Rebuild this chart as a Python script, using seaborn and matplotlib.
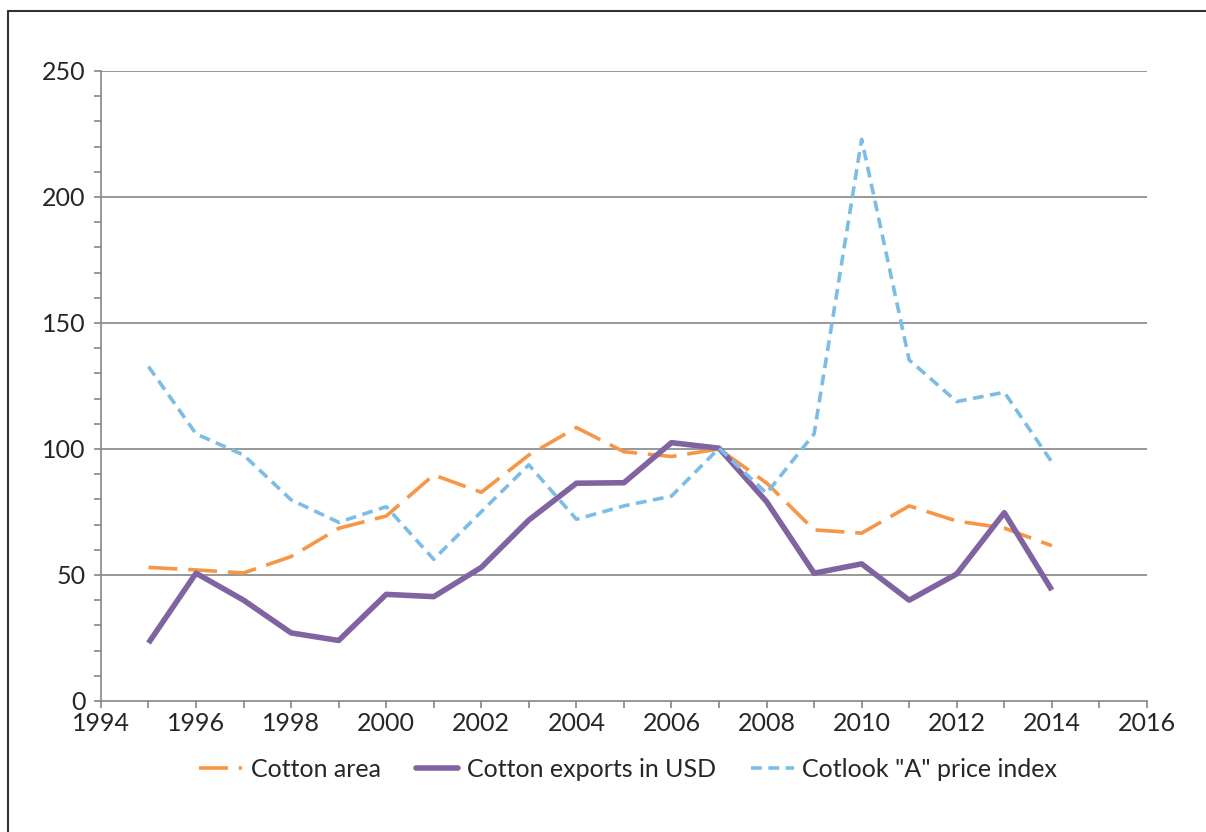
import matplotlib

matplotlib.use("Agg")
import matplotlib.pyplot as plt
import numpy as np
import pandas as pd
import seaborn as sns
from matplotlib.lines import Line2D
from matplotlib.ticker import MultipleLocator

# --------------------------------------------------------------------------- #
# Data (indices, 2007 = 100)
# --------------------------------------------------------------------------- #
years = list(range(1995, 2015))
cotton_area = [53.0, 52.0, 50.8, 57.3, 68.5, 73.4, 89.7, 82.8, 97.6, 108.5,
               98.9, 97.0, 100.0, 86.5, 67.9, 66.6, 77.4, 71.4, 68.6, 61.6]
cotton_exports = [23.0, 50.7, 40.0, 27.0, 24.0, 42.3, 41.4, 53.0, 71.8, 86.4,
                  86.6, 102.5, 100.3, 79.1, 50.7, 54.4, 40.0, 50.4, 74.7, 44.0]
cotlook_index = [132.7, 106.0, 97.6, 79.8, 70.9, 77.1, 56.2, 75.1, 93.7, 72.1,
                 77.4, 81.3, 100.3, 82.4, 106.0, 222.9, 135.3, 118.8, 122.5, 94.8]

series_names = ["Cotton area", "Cotton exports in USD", 'Cotlook "A" price index']
colors = ["#F79646", "#8064A2", "#7CBDE6"]
widths = [2.6, 4.0, 2.6]
dash_styles = [(8, 3), "", (3, 1.8)]

df = pd.DataFrame({
    "year": years * 3,
    "value": cotton_area + cotton_exports + cotlook_index,
    "series": np.repeat(series_names, len(years)),
})

sns.set_style("white")
plt.rcParams["font.family"] = ["Lato", "DejaVu Sans"]
text_color = "#262626"

fig = plt.figure(figsize=(12.06, 8.32), dpi=100)
ax = fig.add_axes([0.0837, 0.1575, 0.8673, 0.7572])

grid_color = "#868686"
for y in range(50, 251, 50):
    ax.axhline(y, color=grid_color, lw=1.2, zorder=0)

# draw each series with its own line width
for name, col, lw, ds in zip(series_names, colors, widths, dash_styles):
    sub = df[df["series"] == name]
    sns.lineplot(data=sub, x="year", y="value", color=col, lw=lw, ax=ax,
                 legend=False, dashes=False, zorder=3)
    line = ax.lines[-1]
    if ds:
        line.set_dashes(ds)
    line.set_solid_capstyle("butt")
    line.set_dash_capstyle("butt")

ax.set_xlim(1994, 2016)
ax.set_ylim(0, 250)
ax.xaxis.set_major_locator(MultipleLocator(2))
ax.xaxis.set_minor_locator(MultipleLocator(1))
ax.yaxis.set_major_locator(MultipleLocator(50))
ax.yaxis.set_minor_locator(MultipleLocator(10))
ax.set_xlabel("")
ax.set_ylabel("")

for side in ["top", "right"]:
    ax.spines[side].set_visible(False)
for side in ["left", "bottom"]:
    ax.spines[side].set_color(grid_color)
    ax.spines[side].set_linewidth(1.2)

ax.tick_params(axis="both", which="both", direction="out", color=grid_color,
               width=1.2, length=5, labelsize=18, labelcolor=text_color)
ax.tick_params(axis="x", which="major", pad=3)
ax.tick_params(axis="y", which="major", pad=6)
ax.tick_params(left=True, bottom=True, which="both")

handles = [Line2D([], [], color=c, lw=w, dashes=d if d else (None, None))
           for c, w, d in zip(colors, widths, dash_styles)]
for h, d in zip(handles, dash_styles):
    if not d:
        h.set_linestyle("-")
    h.set_solid_capstyle("round")
fig.legend(handles, series_names, loc="center", bbox_to_anchor=(0.521, 0.075),
           ncol=3, frameon=False, fontsize=18, handlelength=1.7,
           handletextpad=0.35, columnspacing=1.4, labelcolor=text_color)

# outer frame of the exported chart
fig.add_artist(Line2D([8 / 1206, 8 / 1206], [0, 1 - 11 / 832],
                      transform=fig.transFigure, color="#333333", lw=1.5))
fig.add_artist(Line2D([8 / 1206, 1], [1 - 11 / 832, 1 - 11 / 832],
                      transform=fig.transFigure, color="#333333", lw=1.5))

fig.savefig("out.png", dpi=100)
plt.close(fig)
